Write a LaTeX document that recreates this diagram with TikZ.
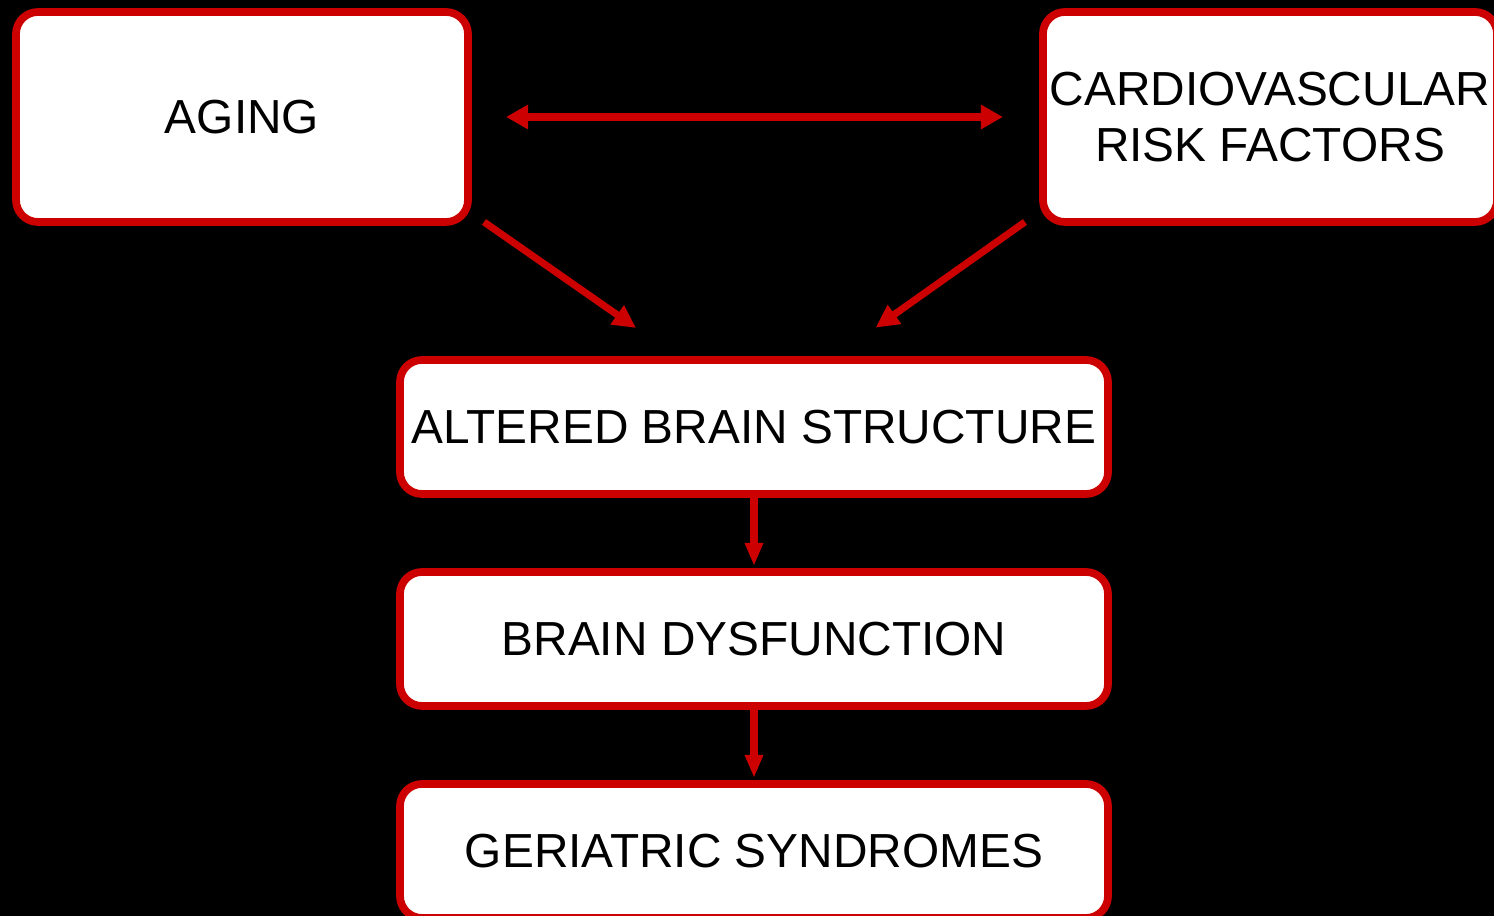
\documentclass[tikz,border=0pt]{standalone}
\usepackage{fontspec}
\setmainfont{Liberation Sans}
\usetikzlibrary{positioning, arrows.meta}
\definecolor{rood}{RGB}{204,0,0}

\begin{document}
\begin{tikzpicture}[font=\fontsize{13.6pt}{15.9pt}\selectfont,
      kotak/.style={draw=rood, fill=white, line width=2.2pt, rounded corners=2.2mm, align=center, outer sep=0pt, inner sep=2pt},
      lebar/.style={kotak, minimum width=4.52cm, minimum height=2.10cm},
      alur/.style={kotak, minimum width=7.08cm, minimum height=1.34cm},
      panah/.style={-{Triangle[length=2.3mm, width=2.2mm]}, rood, line width=2pt},
      vpanah/.style={-{Triangle[length=2.3mm, width=1.7mm]}, rood, line width=2pt},
      dpanah/.style={{Triangle[length=2.2mm, width=2.3mm]}-{Triangle[length=2.2mm, width=2.3mm]}, rood, line width=2pt}
    ]

    % ─── Background ──────────────────────────────────────────────
    \fill[black] (0,0) rectangle (14.94,-9.16);
    \useasboundingbox (0,0) rectangle (14.94,-9.16);
    \clip (0,0) rectangle (14.94,-9.16);

    % ─── Top row ─────────────────────────────────────────────────
    \node[lebar] (aging) at (2.42, -1.17) {AGING};
    \node[lebar, minimum width=4.48cm] (cvrf) at (12.70, -1.17) {CARDIOVASCULAR\\ RISK FACTORS};

    % ─── Chain ───────────────────────────────────────────────────
    \node[alur] (structure)   at (7.54, -4.27) {ALTERED BRAIN STRUCTURE};
    \node[alur] (dysfunction) at (7.54, -6.39) {BRAIN DYSFUNCTION};
    \node[alur] (syndromes)   at (7.54, -8.51) {GERIATRIC SYNDROMES};

    % ─── Arrows ──────────────────────────────────────────────────
    % Aging <-> risk factors
    \draw[dpanah, shorten <=3.8mm, shorten >=4.0mm] (aging.east) -- (cvrf.west);

    % both into the brain structure
    \draw[panah, shorten >=5.6mm] ([xshift=1.6mm]aging.south east) -- ([xshift=-7.2mm]structure.north);
    \draw[panah, shorten >=5.6mm] ([xshift=-1.8mm]cvrf.south west) -- ([xshift=7.6mm]structure.north);

    % down the chain
    \draw[vpanah, shorten >=0.6mm] (structure.south)   -- (dysfunction.north);
    \draw[vpanah, shorten >=0.6mm] (dysfunction.south) -- (syndromes.north);

\end{tikzpicture}
\end{document}
